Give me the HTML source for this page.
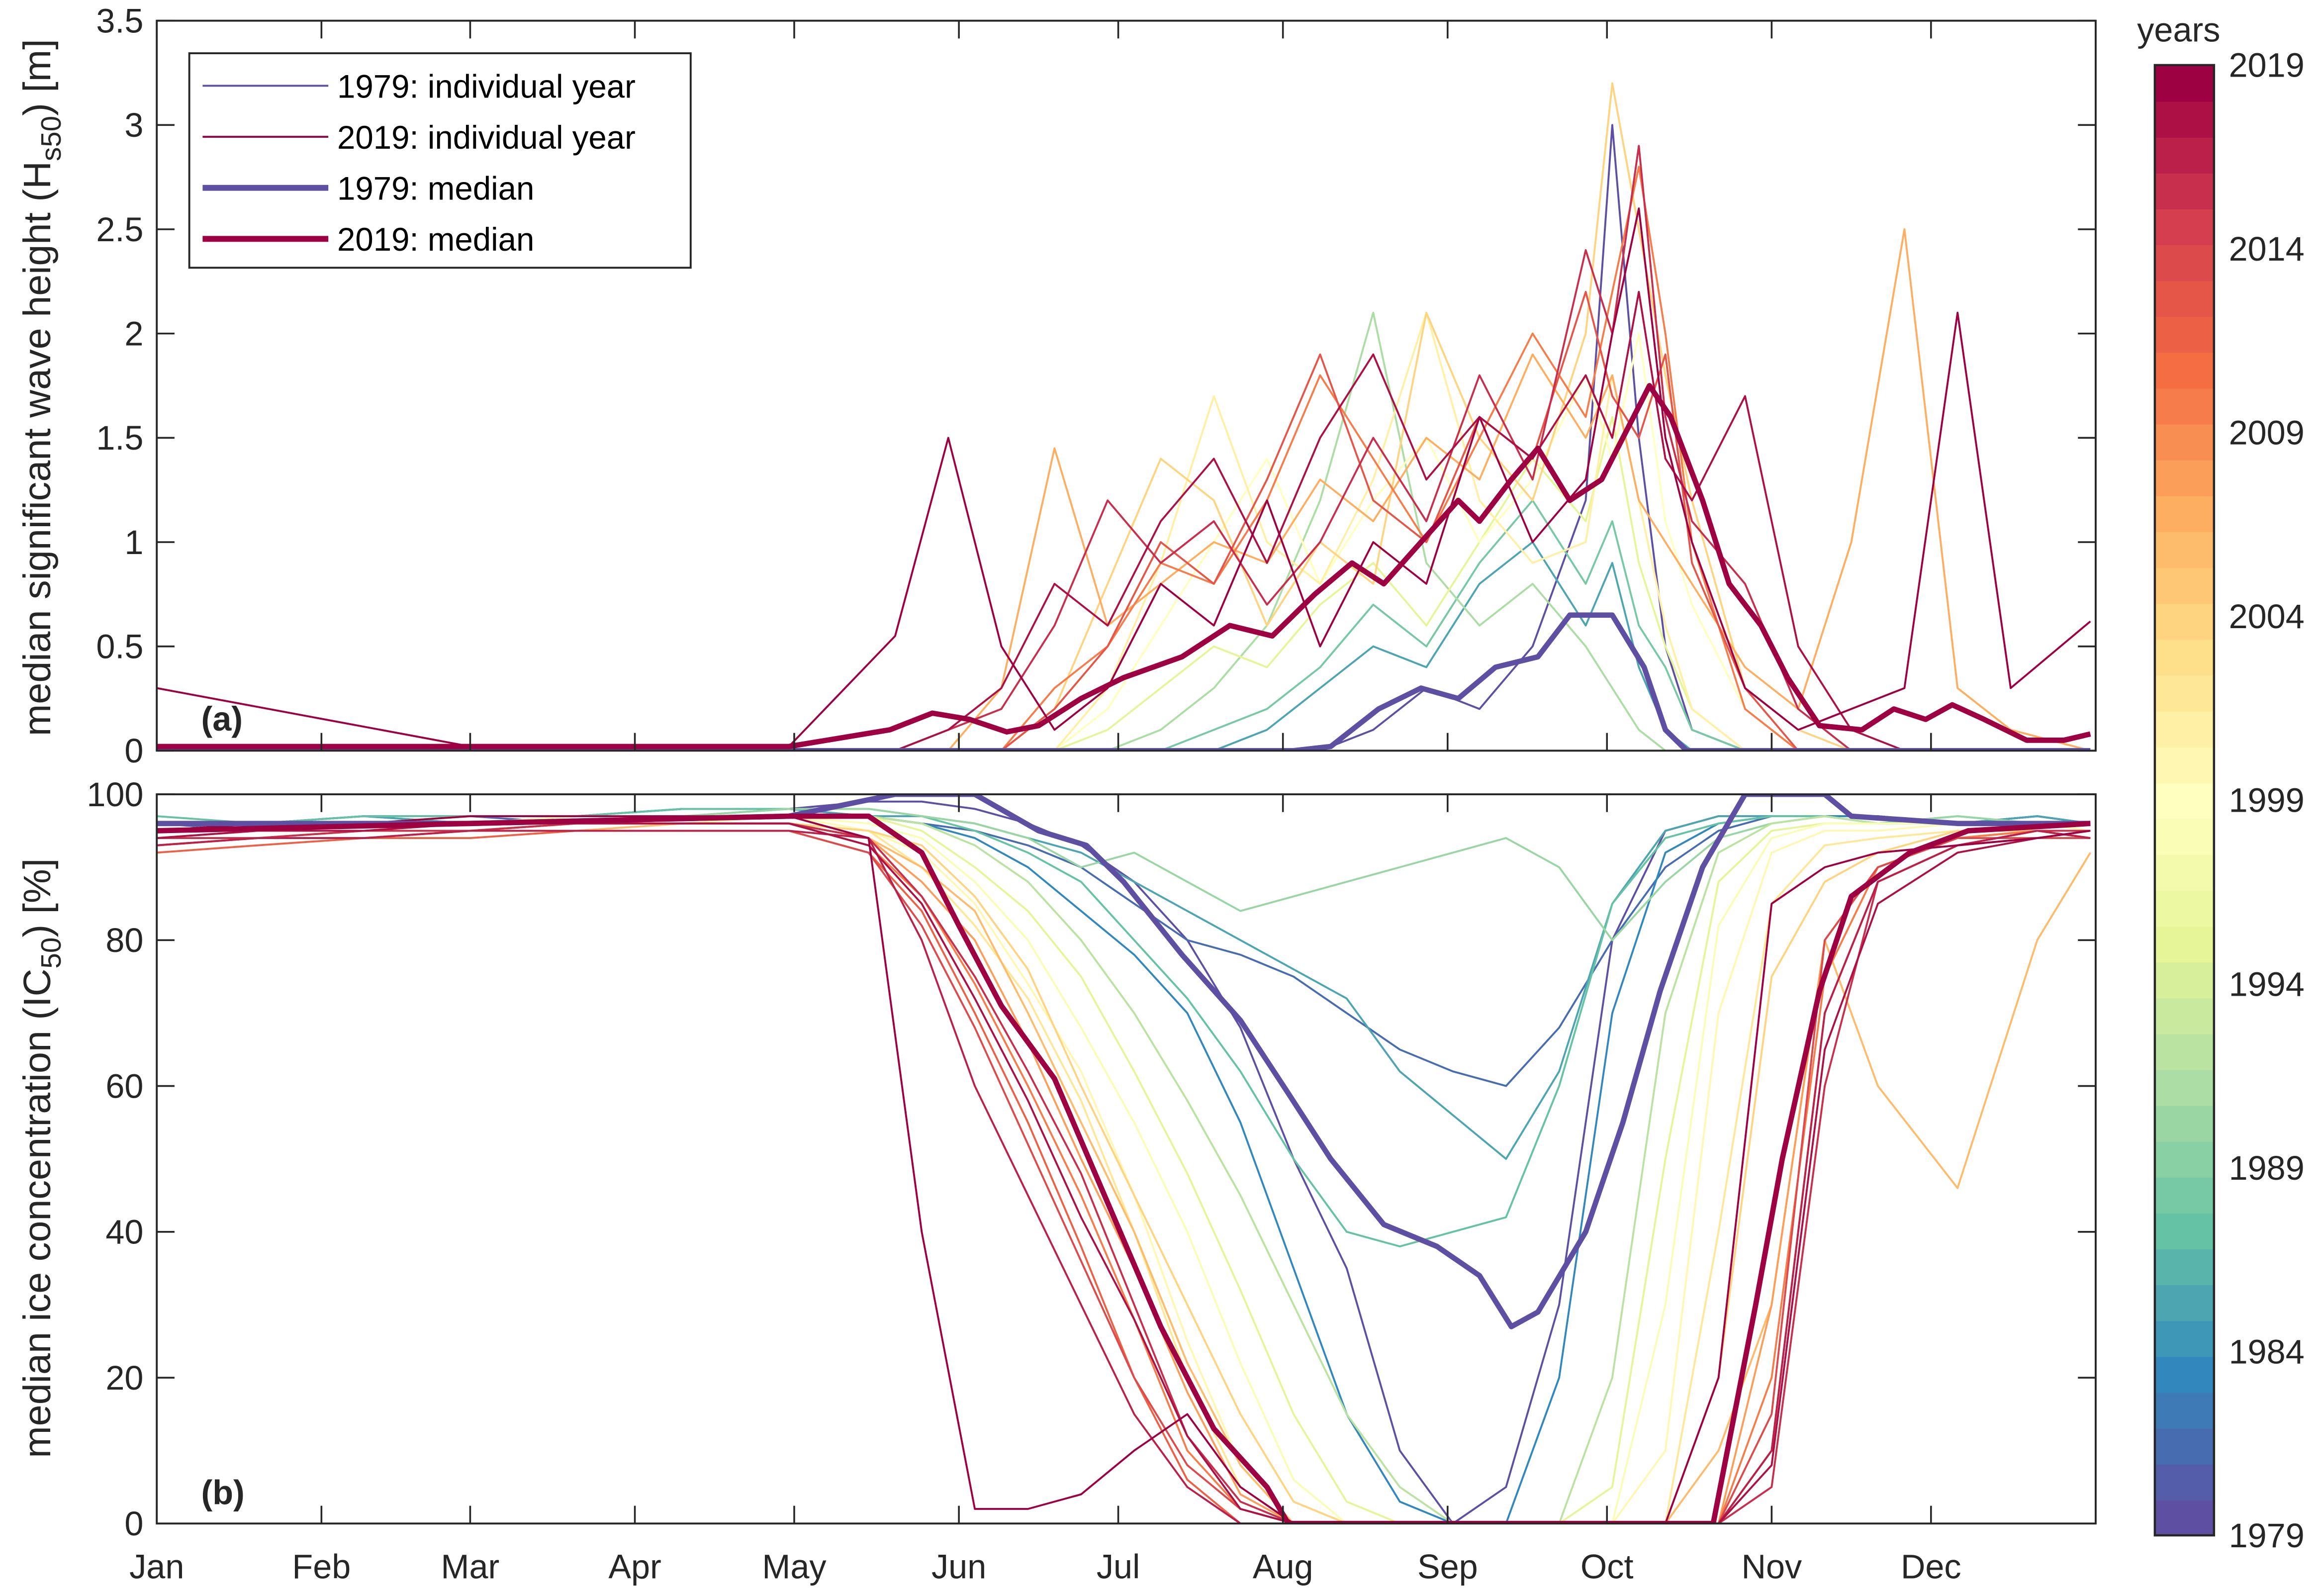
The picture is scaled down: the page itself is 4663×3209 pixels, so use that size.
<!DOCTYPE html>
<html><head><meta charset="utf-8"><style>
html,body{margin:0;padding:0;background:#fff}
svg{display:block;font-family:"Liberation Sans",Arial,sans-serif}
</style></head><body>
<svg id="chart" width="4663" height="3209" viewBox="0 0 1568 1079" preserveAspectRatio="none" xmlns="http://www.w3.org/2000/svg">
<rect x="0" y="0" width="1568" height="1079" fill="#fff"/>
<g id="marks"></g>
<g id="axes"></g>
</svg>
<script>
// ---- data ----
const months = ["Jan","Feb","Mar","Apr","May","Jun","Jul","Aug","Sep","Oct","Nov","Dec"];
const monthStartDays = [1,32,60,91,121,152,182,213,244,274,305,335];
const hsTicks = [0,0.5,1,1.5,2,2.5,3,3.5];
const icTicks = [0,20,40,60,80,100];
const cbTickYears = [1979,1984,1989,1994,1999,2004,2009,2014,2019];

// ice concentration grid days
const icDays = [1,20,40,60,80,100,120,135,145,155,165,175,185,195,205,215,225,235,245,255,265,275,285,295,305,315,325,340,355,365];
const icYears = [1979,1981,1983,1985,1987,1990,1992,1995,1998,2000,2002,2004,2006,2008,2010,2012,2014,2016,2017,2018,2019];
const ic1979 = [96,96,97,97,97,98,98,99,99,98,96,93,88,80,68,50,35,10,0,5,30,80,95,97,97,97,97,96,97,96];
const ic1981 = [96,95,96,97,96,97,97,97,96,95,93,90,85,80,78,75,70,65,62,60,68,80,90,95,97,97,97,96,97,96];
const ic1983 = [96,96,97,96,97,98,98,97,96,94,90,84,78,70,55,35,15,3,0,0,20,70,92,96,97,97,97,96,97,96];
const ic1985 = [95,96,97,96,97,97,98,97,97,96,94,92,88,84,80,76,72,62,56,50,62,85,95,97,97,97,96,96,97,96];
const ic1987 = [97,96,97,97,97,98,98,98,97,95,92,88,80,72,62,50,40,38,40,42,60,85,94,96,97,97,96,97,96,96];
const ic1990 = [95,96,96,97,97,97,98,98,97,96,94,90,92,88,84,86,88,90,92,94,90,80,88,94,96,97,96,97,96,96];
const ic1992 = [95,96,96,97,97,97,97,97,96,93,88,80,70,58,45,30,15,5,0,0,0,20,70,92,96,97,96,96,96,96];
const ic1995 = [96,96,96,97,97,97,97,97,95,90,84,75,62,48,32,15,3,0,0,0,0,5,50,88,95,96,96,96,96,96];
const ic1998 = [95,96,96,96,97,97,97,96,94,88,80,68,55,40,22,6,0,0,0,0,0,0,30,82,94,96,96,96,96,96];
const ic2000 = [94,95,95,96,96,96,97,95,92,85,74,62,45,25,8,0,0,0,0,0,0,0,10,70,92,95,95,96,96,95];
const ic2002 = [93,94,95,95,96,96,96,95,90,82,72,58,40,20,5,0,0,0,0,0,0,0,0,40,85,93,94,95,95,94];
const ic2004 = [94,94,95,95,96,96,96,95,93,86,76,60,45,30,15,3,0,0,0,0,0,0,0,20,75,88,92,95,95,94];
const ic2006 = [93,94,94,95,95,96,96,94,90,84,70,55,40,22,8,0,0,0,0,0,0,0,0,10,30,80,60,46,80,92];
const ic2008 = [94,95,95,95,96,96,96,94,88,80,66,50,35,18,4,0,0,0,0,0,0,0,0,0,30,80,90,94,95,94];
const ic2010 = [93,94,95,95,96,96,96,93,86,74,60,45,28,10,2,0,0,0,0,0,0,0,0,0,20,75,90,94,95,94];
const ic2012 = [92,93,94,94,95,95,95,92,84,70,55,38,20,6,0,0,0,0,0,0,0,0,0,0,10,70,88,93,94,94];
const ic2014 = [93,94,94,95,95,95,95,92,82,68,52,36,20,8,2,0,0,0,0,0,0,0,0,0,15,80,90,94,94,94];
const ic2016 = [94,94,95,95,96,96,96,94,86,75,62,48,30,12,3,0,0,0,0,0,0,0,0,0,5,60,88,93,95,95];
const ic2017 = [93,94,94,95,95,95,95,94,80,60,45,30,15,5,0,0,0,0,0,0,0,0,0,0,10,70,88,93,95,94];
const ic2018 = [94,95,95,96,96,96,96,93,85,72,58,42,28,12,2,0,0,0,0,0,0,0,0,0,8,65,85,92,94,95];
const ic2019 = [95,96,96,97,97,97,97,94,40,2,2,4,10,15,5,0,0,0,0,0,0,0,0,20,85,90,92,93,94,95];
const icSeries = [ic1979,ic1981,ic1983,ic1985,ic1987,ic1990,ic1992,ic1995,ic1998,ic2000,ic2002,ic2004,ic2006,ic2008,ic2010,ic2012,ic2014,ic2016,ic2017,ic2018,ic2019];

// ice concentration medians
const icMed1979Days = [1,60,120,140,155,167,176,183,194,205,214,222,232,242,250,256,261,270,277,284,292,300,315,320,340,365];
const icMed1979 = [96,96,97,100,100,95,93,88,78,69,59,50,41,38,34,27,29,40,55,73,90,100,100,97,96,96];
const icMed2019Days = [1,60,120,135,145,152,160,170,180,190,200,210,214,294,302,307,314,320,331,342,365];
const icMed2019 = [95,96,97,97,92,82,71,61,44,27,13,5,0,0,30,50,73,86,92,95,96];

// wave height grid days
const hsDays = [1,60,120,140,150,160,170,180,190,200,210,220,230,240,250,260,270,275,280,285,290,300,310,320,330,340,350,365];
const hsYears = [1979,1985,1988,1991,1995,1999,2001,2004,2007,2010,2013,2016,2018,2019];
const hs1979 = [0,0,0,0,0,0,0,0,0,0,0,0,0.1,0.3,0.2,0.5,1.2,3.0,1.5,0.5,0.1,0,0,0,0,0,0,0];
const hs1985 = [0,0,0,0,0,0,0,0,0,0,0.1,0.3,0.5,0.4,0.8,1.0,0.6,0.9,0.4,0.1,0,0,0,0,0,0,0,0];
const hs1988 = [0,0,0,0,0,0,0,0,0,0.1,0.2,0.4,0.7,0.5,0.9,1.2,0.8,1.1,0.6,0.4,0.1,0,0,0,0,0,0,0];
const hs1991 = [0,0,0,0,0,0,0,0,0.1,0.3,0.6,1.2,2.1,0.9,0.6,0.8,0.5,0.3,0.1,0,0,0,0,0,0,0,0,0];
const hs1995 = [0,0,0,0,0,0,0,0.1,0.3,0.5,0.4,0.7,0.9,0.6,1.0,1.4,1.1,1.6,0.9,0.5,0.2,0,0,0,0,0,0,0];
const hs1999 = [0,0,0,0,0,0,0,0.2,0.6,1.0,1.4,0.8,1.2,1.5,1.0,1.3,1.8,1.4,2.0,1.1,0.7,0.2,0,0,0,0,0,0];
const hs2001 = [0,0,0,0,0,0,0,0.3,0.9,1.7,1.0,0.8,1.3,2.1,1.2,0.9,1.0,1.8,1.2,0.6,0.2,0,0,0,0,0,0,0];
const hs2004 = [0,0,0,0,0,0,0.2,0.8,1.4,1.2,0.6,1.0,0.8,2.1,1.5,1.2,2.0,3.2,2.5,1.8,1.2,0.3,0.1,0,0,0,0,0];
const hs2007 = [0,0,0,0,0,0.3,1.45,0.6,0.8,1.0,0.9,1.3,1.1,1.5,1.3,1.9,1.5,1.8,1.2,1.0,0.8,0.4,0.2,1.0,2.5,0.3,0.1,0];
const hs2010 = [0,0,0,0,0,0,0.3,0.5,0.9,0.8,1.2,1.8,1.4,1.0,1.5,2.0,1.6,2.2,2.8,2.0,1.0,0.2,0,0,0,0,0,0];
const hs2013 = [0,0,0,0,0,0,0.2,0.5,1.0,0.8,1.3,1.9,1.2,1.0,1.6,1.4,2.2,1.7,1.5,1.9,0.9,0.3,0,0,0,0,0,0];
const hs2016 = [0,0,0,0,0.1,0.2,0.6,1.2,0.9,1.1,0.7,1.0,1.5,1.1,1.8,1.3,2.4,2.0,2.9,1.6,1.1,0.8,0.2,0,0,0,0,0];
const hs2018 = [0,0,0,0,0.1,0.3,0.8,0.6,1.1,1.4,0.9,1.5,1.9,1.3,1.6,1.4,1.8,1.5,2.2,1.4,1.2,1.7,0.5,0.1,0,0,0,0];
const hs2019 = [0.3,0.02,0.02,0.55,1.5,0.5,0.1,0.3,0.8,0.6,1.2,0.5,1.0,0.8,1.6,1.0,1.3,2.0,2.6,1.5,1.0,0.3,0.1,0.2,0.3,2.1,0.3,0.62];
const hsSeries = [hs1979,hs1985,hs1988,hs1991,hs1995,hs1999,hs2001,hs2004,hs2007,hs2010,hs2013,hs2016,hs2018,hs2019];

// wave height medians
const hsMed1979Days = [1,215,222,231,239,246,253,261,267,275,281,285,289,365];
const hsMed1979 = [0,0,0.02,0.2,0.3,0.25,0.4,0.45,0.65,0.65,0.4,0.1,0,0];
const hsMed2019Days = [1,120,139,147,154,161,167,175,183,194,203,211,219,226,232,239,246,250,256,261,267,273,278,282,286,292,297,303,308,314,322,328,334,339,345,353,360,365];
const hsMed2019 = [0.02,0.02,0.1,0.18,0.15,0.09,0.12,0.25,0.35,0.45,0.6,0.55,0.75,0.9,0.8,1.0,1.2,1.1,1.3,1.45,1.2,1.3,1.55,1.75,1.6,1.2,0.8,0.6,0.35,0.12,0.1,0.2,0.15,0.22,0.15,0.05,0.05,0.08];

// ---- layout / scales ----
const X0=106, X1=1417;
const TOP={y0:14,y1:507.5,min:0,max:3.5};
const BOT={y0:537,y1:1030,min:0,max:100};
function xDay(d){return X0+(d-1)*(X1-X0)/365;}
function yHs(v){return TOP.y1-(v-TOP.min)/(TOP.max-TOP.min)*(TOP.y1-TOP.y0);}
function yIc(v){return BOT.y1-(v-BOT.min)/(BOT.max-BOT.min)*(BOT.y1-BOT.y0);}

const spectral=["#9e0142","#d53e4f","#f46d43","#fdae61","#fee08b","#ffffbf","#e6f598","#abdda4","#66c2a5","#3288bd","#5e4fa2"];
function hex(h){return [1,3,5].map(i=>parseInt(h.substr(i,2),16));}
function yearColor(yr){
  const t=(2019-yr)/40*(spectral.length-1);
  const i=Math.min(Math.floor(t),spectral.length-2), f=t-i;
  const a=hex(spectral[i]), b=hex(spectral[i+1]);
  return "rgb("+a.map((v,k)=>Math.round(v+(b[k]-v)*f)).join(",")+")";
}

const NS="http://www.w3.org/2000/svg";
const marks=document.getElementById('marks');
const axes=document.getElementById('axes');
function mk(tag,attrs,parent){const e=document.createElementNS(NS,tag);for(const k in attrs)e.setAttribute(k,attrs[k]);(parent||marks).appendChild(e);return e;}

const defs=mk('defs',{}, document.getElementById('chart'));
const c1=mk('clipPath',{id:'clipTop'},defs); mk('rect',{x:X0,y:TOP.y0,width:X1-X0,height:TOP.y1-TOP.y0},c1);
const c2=mk('clipPath',{id:'clipBot'},defs); mk('rect',{x:X0,y:BOT.y0,width:X1-X0,height:BOT.y1-BOT.y0},c2);
const gTop=mk('g',{'clip-path':'url(#clipTop)'});


const gBot=mk('g',{'clip-path':'url(#clipBot)'});



function line(days,vals,yf,color,w,parent,name){
  const pts=days.map((d,i)=>xDay(d).toFixed(2)+","+yf(vals[i]).toFixed(2)).join(" ");
  const p=mk('polyline',{points:pts,fill:'none',stroke:color,'stroke-width':w,'stroke-linejoin':'round'},parent);
  
  
  return p;
}
hsYears.forEach((yr,i)=>line(hsDays,hsSeries[i],yHs,yearColor(yr),1.3,gTop,'hs-line-'+yr));
icYears.forEach((yr,i)=>line(icDays,icSeries[i],yIc,yearColor(yr),1.3,gBot,'ic-line-'+yr));
line(hsMed1979Days,hsMed1979,yHs,yearColor(1979),3.6,gTop,'hs-median-1979');
line(hsMed2019Days,hsMed2019,yHs,yearColor(2019),3.6,gTop,'hs-median-2019');
line(icMed1979Days,icMed1979,yIc,yearColor(1979),3.6,gBot,'ic-median-1979');
line(icMed2019Days,icMed2019,yIc,yearColor(2019),3.6,gBot,'ic-median-2019');

// ---- axes ----
const AX="#262626";
function txt(s,attrs,name){const t=mk('text',Object.assign({fill:AX,'font-size':23},attrs),axes);t.textContent=s;return t;}
[[TOP,'top'],[BOT,'bottom']].forEach(([P,nm])=>{
  const r=mk('rect',{x:X0,y:P.y0,width:X1-X0,height:P.y1-P.y0,fill:'none',stroke:AX,'stroke-width':1.3},axes);
  
  
  monthStartDays.forEach(d=>{const x=xDay(d);
    mk('line',{x1:x,x2:x,y1:P.y1,y2:P.y1-12,stroke:AX,'stroke-width':1.2},axes);
    mk('line',{x1:x,x2:x,y1:P.y0,y2:P.y0+12,stroke:AX,'stroke-width':1.2},axes);});
});
hsTicks.forEach(v=>{const y=yHs(v);
  mk('line',{x1:X0,x2:X0+12,y1:y,y2:y,stroke:AX,'stroke-width':1.2},axes);
  mk('line',{x1:X1,x2:X1-12,y1:y,y2:y,stroke:AX,'stroke-width':1.2},axes);
  txt(String(v),{x:X0-9,y:y+8,'text-anchor':'end'},'hs-tick-label');});
icTicks.forEach(v=>{const y=yIc(v);
  mk('line',{x1:X0,x2:X0+12,y1:y,y2:y,stroke:AX,'stroke-width':1.2},axes);
  mk('line',{x1:X1,x2:X1-12,y1:y,y2:y,stroke:AX,'stroke-width':1.2},axes);
  txt(String(v),{x:X0-9,y:y+8,'text-anchor':'end'},'ic-tick-label');});
months.forEach((m,i)=>txt(m,{x:xDay(monthStartDays[i]),y:1067,'text-anchor':'middle'},'month-label'));

const yl1=txt('',{transform:'translate(34,262) rotate(-90)','text-anchor':'middle','font-size':26},'hs-y-axis-title');
yl1.innerHTML='median significant wave height (H<tspan font-size="19" dy="7">s50</tspan><tspan dy="-7">) [m]</tspan>';
const yl2=txt('',{transform:'translate(34,783) rotate(-90)','text-anchor':'middle','font-size':26},'ic-y-axis-title');
yl2.innerHTML='median ice concentration (IC<tspan font-size="19" dy="7">50</tspan><tspan dy="-7">) [%]</tspan>';
txt('(a)',{x:136,y:494,'font-weight':'bold','font-size':23},'panel-a-label');
txt('(b)',{x:136,y:1017,'font-weight':'bold','font-size':23},'panel-b-label');

// legend
const lg=mk('g',{},axes);


mk('rect',{x:128,y:36,width:339,height:145,fill:'#fff',stroke:AX,'stroke-width':1.3},lg);
const legItems=[['1979: individual year',1979,1.3],['2019: individual year',2019,1.3],['1979: median',1979,4],['2019: median',2019,4]];
legItems.forEach((it,i)=>{const y=58+i*34.5;
  const l=mk('line',{x1:137,x2:222,y1:y,y2:y,stroke:yearColor(it[1]),'stroke-width':it[2]},lg);
  
  
  const t=mk('text',{x:228,y:y+8,'font-size':22,fill:'#000'},lg); t.textContent=it[0];
  
  });

// colorbar
const CBX=1457, CBW=40, CBT=44, CBB=1038;
const bandH=(CBB-CBT)/41;
for(let yr=1979;yr<=2019;yr++){
  const r=mk('rect',{x:CBX,y:CBT+(2019-yr)*bandH,width:CBW,height:bandH+0.6,fill:yearColor(yr)},axes);
  
  
}
const cbf=mk('rect',{x:CBX,y:CBT,width:CBW,height:CBB-CBT,fill:'none',stroke:AX,'stroke-width':1.5},axes);


cbTickYears.forEach(yr=>{const y=CBT+(2019-yr)/40*(CBB-CBT); txt(String(yr),{x:1507,y:y+8},'colorbar-tick-label');});
txt('years',{x:1445,y:28},'colorbar-title');
</script>
</body></html>
